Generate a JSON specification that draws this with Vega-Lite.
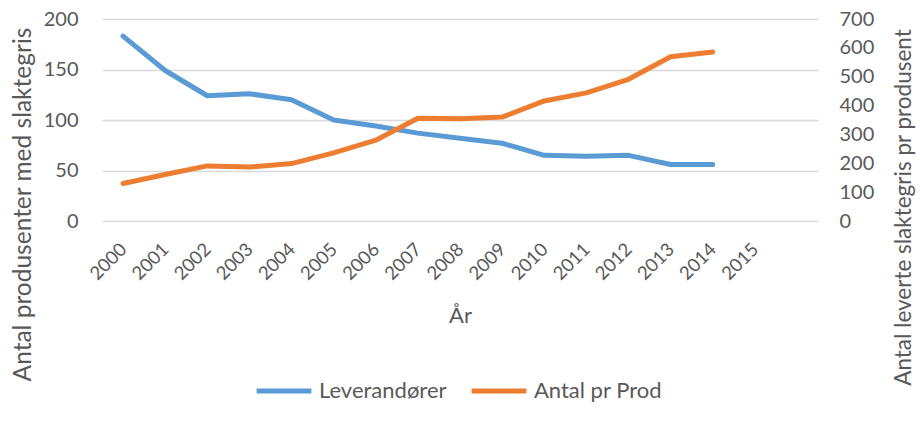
{
  "$schema": "https://vega.github.io/schema/vega-lite/v6.json",
  "width": 716,
  "height": 202,
  "autosize": {"type": "none"},
  "padding": {"left": 102, "top": 19, "right": 102, "bottom": 202},
  "background": "white",
  "config": {
    "font": "Lato",
    "view": {"stroke": null},
    "axis": {"labelColor": "#595959", "titleColor": "#595959", "labelFont": "Lato", "titleFont": "Lato", "titleFontWeight": "normal", "domain": false, "ticks": false}
  },
  "data": {
    "values": [
      {"year": "2000", "series": "Leverandører", "value": 183},
      {"year": "2001", "series": "Leverandører", "value": 149},
      {"year": "2002", "series": "Leverandører", "value": 124},
      {"year": "2003", "series": "Leverandører", "value": 126},
      {"year": "2004", "series": "Leverandører", "value": 120},
      {"year": "2005", "series": "Leverandører", "value": 100},
      {"year": "2006", "series": "Leverandører", "value": 94},
      {"year": "2007", "series": "Leverandører", "value": 87},
      {"year": "2008", "series": "Leverandører", "value": 82},
      {"year": "2009", "series": "Leverandører", "value": 77},
      {"year": "2010", "series": "Leverandører", "value": 65},
      {"year": "2011", "series": "Leverandører", "value": 64},
      {"year": "2012", "series": "Leverandører", "value": 65},
      {"year": "2013", "series": "Leverandører", "value": 56},
      {"year": "2014", "series": "Leverandører", "value": 56},
      {"year": "2000", "series": "Antal pr Prod", "value": 130},
      {"year": "2001", "series": "Antal pr Prod", "value": 161},
      {"year": "2002", "series": "Antal pr Prod", "value": 191},
      {"year": "2003", "series": "Antal pr Prod", "value": 187},
      {"year": "2004", "series": "Antal pr Prod", "value": 199},
      {"year": "2005", "series": "Antal pr Prod", "value": 236},
      {"year": "2006", "series": "Antal pr Prod", "value": 280},
      {"year": "2007", "series": "Antal pr Prod", "value": 356},
      {"year": "2008", "series": "Antal pr Prod", "value": 354},
      {"year": "2009", "series": "Antal pr Prod", "value": 360},
      {"year": "2010", "series": "Antal pr Prod", "value": 416},
      {"year": "2011", "series": "Antal pr Prod", "value": 444},
      {"year": "2012", "series": "Antal pr Prod", "value": 491},
      {"year": "2013", "series": "Antal pr Prod", "value": 569},
      {"year": "2014", "series": "Antal pr Prod", "value": 586}
    ]
  },
  "encoding": {
    "x": {
      "field": "year",
      "type": "ordinal",
      "scale": {"type": "point", "domain": ["2000","2001","2002","2003","2004","2005","2006","2007","2008","2009","2010","2011","2012","2013","2014","2015"," "], "padding": 0.5},
      "axis": {"title": "År", "labelAngle": -45, "labelAlign": "right", "labelBaseline": "middle", "labelFontSize": 18.5, "labelPadding": 25, "titleFontSize": 22, "titleY": 94, "titleBaseline": "middle", "grid": false}
    },
    "color": {
      "field": "series",
      "type": "nominal",
      "scale": {"domain": ["Leverandører", "Antal pr Prod"], "range": ["#5B9BD5", "#ED7D31"]},
      "legend": {
        "title": null,
        "orient": "none",
        "direction": "horizontal",
        "legendX": 152,
        "legendY": 342,
        "symbolType": "stroke",
        "symbolSize": 3000,
        "symbolStrokeWidth": 5,
        "labelFontSize": 22,
        "labelColor": "#595959",
        "labelFont": "Lato",
        "labelOffset": 5,
        "columnPadding": 14
      }
    }
  },
  "layer": [
    {
      "transform": [{"filter": "datum.series === 'Leverandører'"}],
      "mark": {"type": "line", "strokeWidth": 5, "strokeCap": "round", "strokeJoin": "round"},
      "encoding": {
        "y": {
          "field": "value",
          "type": "quantitative",
          "scale": {"domain": [0, 200]},
          "axis": {"orient": "left", "values": [0, 50, 100, 150, 200], "title": "Antal produsenter med slaktegris", "labelFontSize": 20, "labelPadding": 24, "titleFontSize": 24.5, "titleX": -79, "titleY": 185, "titleAngle": -90, "titleBaseline": "middle", "titleAlign": "center", "grid": true, "gridColor": "#D9D9D9", "gridWidth": 1.3}
        }
      }
    },
    {
      "transform": [{"filter": "datum.series === 'Antal pr Prod'"}],
      "mark": {"type": "line", "strokeWidth": 5, "strokeCap": "round", "strokeJoin": "round"},
      "encoding": {
        "y": {
          "field": "value",
          "type": "quantitative",
          "scale": {"domain": [0, 700]},
          "axis": {"orient": "right", "values": [0, 100, 200, 300, 400, 500, 600, 700], "title": "Antal leverte slaktegris pr produsent", "labelFontSize": 20, "labelPadding": 21, "titleFontSize": 22.5, "titleX": 85, "titleY": 188, "titleAngle": -90, "titleBaseline": "middle", "titleAlign": "center", "grid": false}
        }
      }
    }
  ],
  "resolve": {"scale": {"y": "independent"}}
}
